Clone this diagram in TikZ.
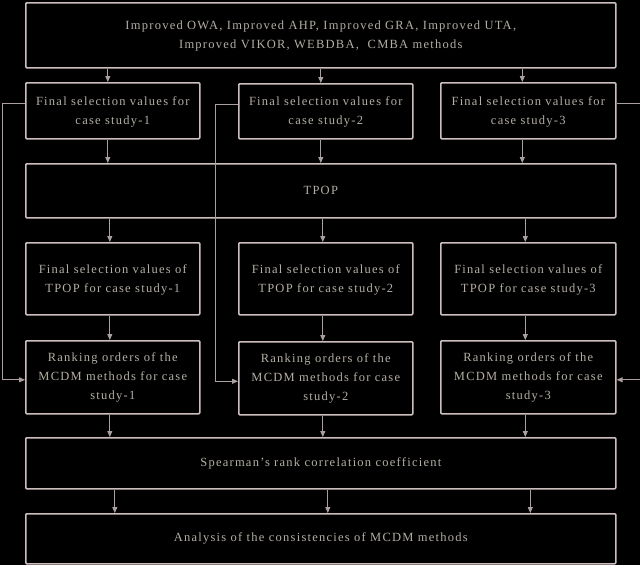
\documentclass[tikz,border=0pt]{standalone}
\usepackage{fontspec}
\setmainfont{Liberation Serif}[LetterSpace=10]
\usetikzlibrary{arrows.meta}
\definecolor{boxc}{RGB}{205,190,190}
\definecolor{linec}{RGB}{170,160,160}
\definecolor{txtc}{RGB}{180,175,165}
\tikzset{
  box/.style={draw=boxc, line width=1.6pt, rounded corners=1pt, anchor=north west,
    text=txtc, align=center, inner sep=0pt,
    font=\fontsize{12.5}{19}\selectfont},
  arr/.style={draw=linec, line width=0.8pt, -{Triangle[length=6pt,width=5pt]}},
}
\begin{document}
\begin{tikzpicture}[x=1pt,y=-1pt]
\fill[black] (0,0) rectangle (640,565);
\useasboundingbox (0,0) rectangle (640,565);
% top
\node[box, minimum width=590, minimum height=65] (top) at (25,2)
  {\raisebox{7pt}{\begin{tabular}{@{}c@{}}Improved OWA, Improved AHP, Improved GRA, Improved UTA,\\Improved VIKOR, WEBDBA,\ \ CMBA methods\end{tabular}}};
% row 2
\node[box, minimum width=174, minimum height=56] (sa) at (25,82)
  {\raisebox{3pt}{\begin{tabular}{@{}c@{}}Final selection values for\\case study-1\end{tabular}}};
\node[box, minimum width=174, minimum height=55] (sb) at (238,83)
  {\raisebox{3pt}{\begin{tabular}{@{}c@{}}Final selection values for\\case study-2\end{tabular}}};
\node[box, minimum width=175, minimum height=56] (sc) at (440,82)
  {\raisebox{3pt}{\begin{tabular}{@{}c@{}}Final selection values for\\case study-3\end{tabular}}};
% TPOP
\node[box, minimum width=590, minimum height=54] (tp) at (25,163) {TPOP};
% row 4
\node[box, minimum width=174, minimum height=72] (fa) at (25,242)
  {\raisebox{9pt}{\begin{tabular}{@{}c@{}}Final selection values of\\TPOP for case study-1\end{tabular}}};
\node[box, minimum width=174, minimum height=72] (fb) at (238,242)
  {\raisebox{9pt}{\begin{tabular}{@{}c@{}}Final selection values of\\TPOP for case study-2\end{tabular}}};
\node[box, minimum width=175, minimum height=72] (fc) at (440,242)
  {\raisebox{9pt}{\begin{tabular}{@{}c@{}}Final selection values of\\TPOP for case study-3\end{tabular}}};
% row 5
\node[box, minimum width=174, minimum height=73] (ra) at (25,340)
  {Ranking orders of the\\MCDM methods for case\\study-1};
\node[box, minimum width=174, minimum height=73] (rb) at (238,341)
  {Ranking orders of the\\MCDM methods for case\\study-2};
\node[box, minimum width=175, minimum height=73] (rc) at (440,340)
  {Ranking orders of the\\MCDM methods for case\\study-3};
% Spearman
\node[box, minimum width=590, minimum height=51] (sp) at (25,437)
  {Spearman's rank correlation coefficient};
% Analysis
\node[box, minimum width=590, minimum height=50] (an) at (25,513)
  {Analysis of the consistencies of MCDM methods};
% arrows top -> row2
\foreach \n/\s in {sa/-5,sb/-5,sc/-6}{
  \draw[arr] ([xshift=\s pt]top.south -| \n.north) -- ([xshift=\s pt]\n.north);
}
% row2 -> TPOP
\foreach \n/\s in {sa/-5,sb/-5,sc/-6}{
  \draw[arr] ([xshift=\s pt]\n.south) -- ([xshift=\s pt]tp.north -| \n.south);
}
% TPOP -> row4
\foreach \n in {fa,fb,fc}{
  \draw[arr] ([xshift=-3pt]tp.south -| \n.north) -- ([xshift=-3pt]\n.north);
}
% row4 -> row5
\draw[arr] ([xshift=-3pt]fa.south) -- ([xshift=-3pt]ra.north);
\draw[arr] ([xshift=-3pt]fb.south) -- ([xshift=-3pt]rb.north);
\draw[arr] ([xshift=-3pt]fc.south) -- ([xshift=-3pt]rc.north);
% row5 -> Spearman
\foreach \n in {ra,rb,rc}{
  \draw[arr] ([xshift=-3pt]\n.south) -- ([xshift=-3pt]sp.north -| \n.south);
}
% Spearman -> Analysis
\foreach \n in {ra,rb,rc}{
  \draw[arr] ([xshift=2pt]sp.south -| \n.south) -- ([xshift=2pt]an.north -| \n.south);
}
% side connectors
\draw[arr] ([yshift=7pt]sa.west) -- ++(-23,0) |- ([yshift=-2.5pt]ra.west);
\draw[arr] ([yshift=7pt]sb.west) -- ++(-23,0) |- ([yshift=-3pt]rb.west);
\draw[arr] ([yshift=7pt]sc.east) -- ++(24,0) |- ([yshift=-2.5pt]rc.east);
\end{tikzpicture}
\end{document}
